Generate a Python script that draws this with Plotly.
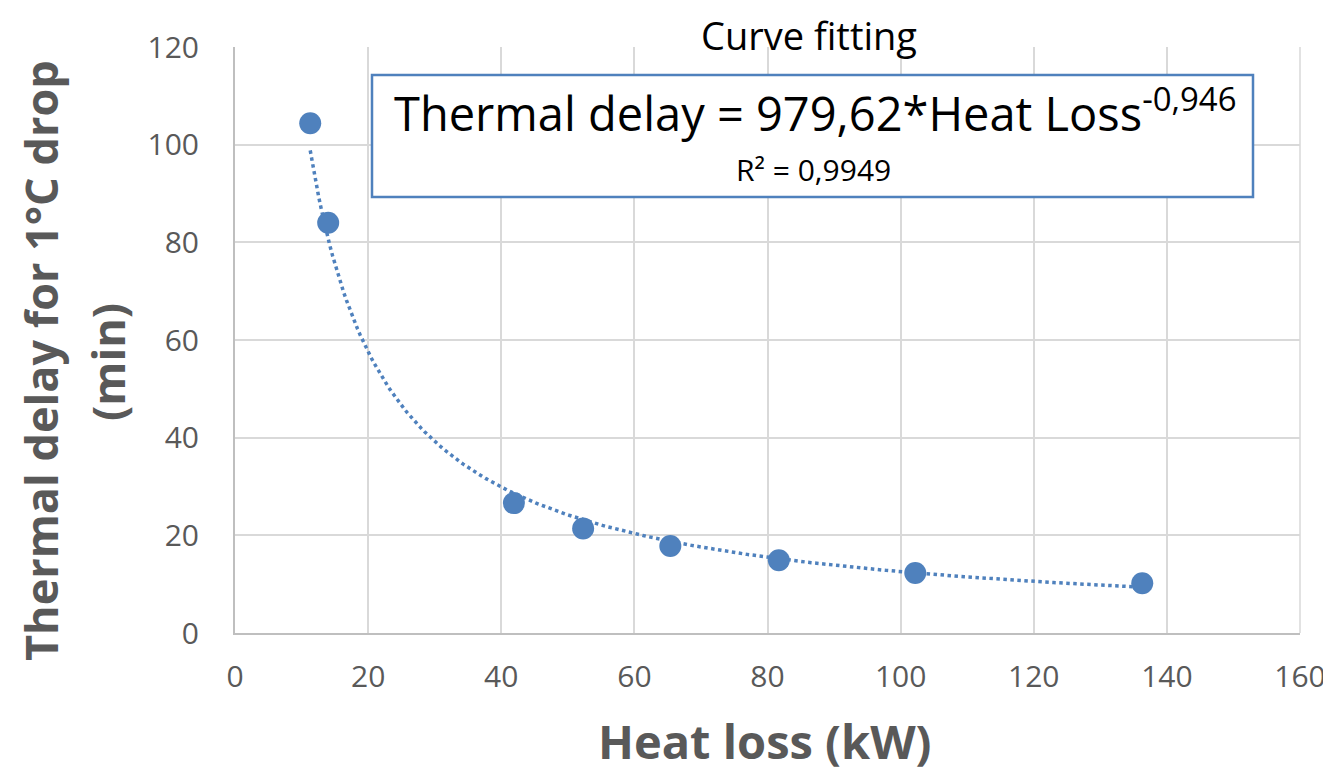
import numpy as np
import plotly.graph_objects as go

# Data
heat_loss = [11.3, 14.0, 41.9, 52.3, 65.4, 81.7, 102.2, 136.3]
thermal_delay = [104.4, 84.0, 26.6, 21.4, 17.8, 14.9, 12.3, 10.2]

# Power trendline coefficients shown on the chart
coef_a = 979.62
coef_b = -0.946

x_ticks = [0, 20, 40, 60, 80, 100, 120, 140, 160]
y_ticks = [0, 20, 40, 60, 80, 100, 120]

blue = "#4f81bd"
grey_text = "#595959"
font_family = "Open Sans, Noto Sans, DejaVu Sans, sans-serif"

trend_x = np.linspace(min(heat_loss), max(heat_loss), 300)
trend_y = coef_a * trend_x ** coef_b

# page offset of the plot inside the browser (body margin)
OFF = 8
PL, PR, PT, PB = 235, 1300, 47, 633  # target plot area in window pixels
W, H = 1331 - OFF, 773 - OFF
pw, ph = PR - PL, PB - PT


def px(x):
    return (x - PL) / pw


def py(y):
    return (PB - y) / ph


fig = go.Figure()
fig.add_trace(go.Scatter(
    x=trend_x, y=trend_y, mode="lines",
    line=dict(color=blue, width=3.5, dash="dot"),
    hoverinfo="skip", showlegend=False,
))
fig.add_trace(go.Scatter(
    x=heat_loss, y=thermal_delay, mode="markers",
    marker=dict(color=blue, size=22),
    showlegend=False,
))

fig.update_layout(
    width=W, height=H,
    margin=dict(l=PL - OFF, r=W - (PR - OFF), t=PT - OFF, b=H - (PB - OFF), autoexpand=False),
    paper_bgcolor="white", plot_bgcolor="white",
    font=dict(family=font_family, color=grey_text),
    xaxis=dict(
        range=[0, 160], tickvals=x_ticks, ticktext=[str(v) for v in x_ticks],
        automargin=False,
        showgrid=True, gridcolor="#d9d9d9", gridwidth=1.5,
        showline=True, linecolor="#bfbfbf", linewidth=2, mirror=False,
        zeroline=False, ticks="", tickfont=dict(size=30, color=grey_text),
        ticklabelstandoff=16,
    ),
    yaxis=dict(
        range=[0, 120], tickvals=y_ticks, ticktext=[str(v) for v in y_ticks],
        automargin=False,
        showgrid=True, gridcolor="#d9d9d9", gridwidth=1.5,
        showline=True, linecolor="#bfbfbf", linewidth=2,
        zeroline=False, ticks="", tickfont=dict(size=30, color=grey_text),
        ticklabelstandoff=28,
    ),
    shapes=[
        dict(type="rect", xref="paper", yref="paper",
             x0=px(372), x1=px(1253), y0=py(197), y1=py(75),
             line=dict(color=blue, width=2.5), fillcolor="white", layer="above"),
        dict(type="line", xref="paper", yref="paper", x0=1, x1=1, y0=0, y1=1,
             line=dict(color="#d9d9d9", width=1.5), layer="below"),
    ],
    annotations=[
        dict(text="Curve fitting", xref="paper", yref="paper",
             x=px(809), y=py(35), showarrow=False,
             font=dict(size=38, color="black"), xanchor="center", yanchor="middle"),
        dict(text="Thermal delay = 979,62*Heat Loss<sup>-0,946</sup>", xref="paper", yref="paper",
             x=px(815), y=py(111), showarrow=False,
             font=dict(size=47, color="black"), xanchor="center", yanchor="middle"),
        dict(text="R² = 0,9949", xref="paper", yref="paper",
             x=px(813), y=py(169), showarrow=False,
             font=dict(size=30, color="black"), xanchor="center", yanchor="middle"),
        dict(text="<b>Heat loss (kW)</b>", xref="paper", yref="paper",
             x=px(765), y=py(741), showarrow=False,
             font=dict(size=47, color=grey_text), xanchor="center", yanchor="middle"),
        dict(text="<b>Thermal delay for 1°C drop</b>", xref="paper", yref="paper",
             x=px(40), y=py(361), showarrow=False, textangle=-90,
             font=dict(size=45, color=grey_text), xanchor="center", yanchor="middle"),
        dict(text="<b>(min)</b>", xref="paper", yref="paper",
             x=px(107), y=py(362), showarrow=False, textangle=-90,
             font=dict(size=45, color=grey_text), xanchor="center", yanchor="middle"),
    ],
)

fig.write_html("out.html")
